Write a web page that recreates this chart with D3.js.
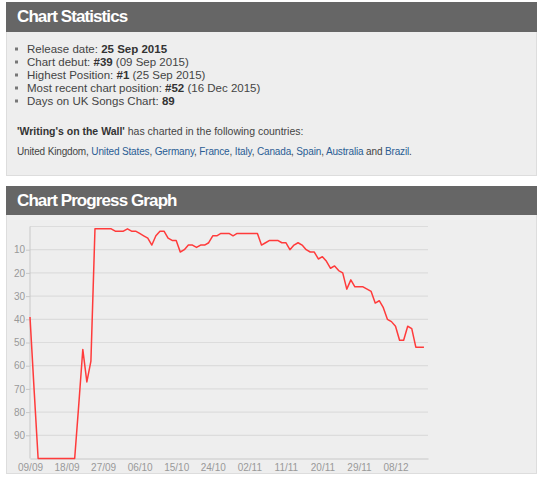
<!DOCTYPE html>
<html>
<head>
<meta charset="utf-8">
<script src="https://cdn.jsdelivr.net/npm/d3@7"></script>
<style>
  body { margin: 0; background: #fff; }
  svg text { font-family: "Liberation Sans", Arial, Helvetica, sans-serif; }
</style>
</head>
<body>
<svg width="540" height="480"></svg>
<script>
// --- data ---
const statLabels = ["Release date: ", "Chart debut: ", "Highest Position: ", "Most recent chart position: ", "Days on UK Songs Chart: "];
const statValues = ["25 Sep 2015", "#39", "#1", "#52", "89"];
const statDates = ["", " (09 Sep 2015)", " (25 Sep 2015)", " (16 Dec 2015)", ""];

const songTitle = "'Writing's on the Wall'";
const countries = ["United Kingdom", "United States", "Germany", "France", "Italy", "Canada", "Spain", "Australia", "Brazil"];

const startDate = "2015-09-09";
const endDate = "2015-12-16";
// daily chart position from startDate, 100 = not in the chart
const positions = [
  39, 70, 100, 100, 100, 100, 100, 100, 100, 100, 100, 100,
  77, 53, 67, 58,
  1, 1, 1, 1, 1, 2, 2, 2, 1, 2, 2,
  3, 4, 5, 8, 4, 2, 2, 5, 6, 6,
  11, 10, 8, 8, 9, 8, 8, 7, 4, 4,
  3, 3, 3, 4, 3, 3, 3, 3, 3, 3,
  8, 7, 6, 6, 6, 7, 7, 10, 8, 7,
  8, 10, 11, 11, 14, 13, 15, 18, 17, 19,
  20, 27, 23, 26, 26, 26, 27, 28, 33, 32,
  35, 40, 41, 43, 49, 49, 43, 44, 52, 52, 52
];

const yTicks = [10, 20, 30, 40, 50, 60, 70, 80, 90];
const yGrid = [0, 10, 20, 30, 40, 50, 60, 70, 80, 90];
const xTickLabels = ["09/09", "18/09", "27/09", "06/10", "15/10", "24/10", "02/11", "11/11", "20/11", "29/11", "08/12"];

const svg = d3.select("svg");

// panels
function panel(y, h, headH, title) {
  svg.append("rect").attr("x", 6.5).attr("y", y + 0.5).attr("width", 530).attr("height", h)
    .attr("fill", "#eeeeee").attr("stroke", "#dddddd");
  svg.append("rect").attr("x", 6).attr("y", y).attr("width", 531).attr("height", headH)
    .attr("fill", "#666666");
  svg.append("text").attr("x", 17).attr("y", y + 20)
    .attr("fill", "#fff").attr("font-size", 17).attr("font-weight", "bold")
    .attr("letter-spacing", -0.9).text(title);
}

panel(2, 173, 30, "Chart Statistics");
panel(186, 287, 29, "Chart Progress Graph");

// statistics list
const rows = svg.append("g");
statLabels.forEach((lab, i) => {
  const y = 52.5 + i * 13;
  rows.append("rect").attr("x", 15).attr("y", y - 5).attr("width", 3).attr("height", 3).attr("fill", "#777");
  const t = rows.append("text").attr("x", 27).attr("y", y).attr("font-size", 11.5).attr("fill", "#444");
  t.append("tspan").text(lab);
  t.append("tspan").attr("font-weight", "bold").attr("fill", "#333").text(statValues[i]);
  t.append("tspan").text(statDates[i]);
});

const intro = svg.append("text").attr("x", 17).attr("y", 135).attr("font-size", 10.5).attr("fill", "#444");
intro.append("tspan").attr("font-weight", "bold").attr("fill", "#333").text(songTitle);
intro.append("tspan").text(" has charted in the following countries:");

const list = svg.append("text").attr("x", 17).attr("y", 154.5).attr("font-size", 10)
  .attr("letter-spacing", -0.15).attr("fill", "#444");
countries.forEach((c, i) => {
  if (i > 0) list.append("tspan").text(i === countries.length - 1 ? " and " : ", ");
  list.append("tspan").attr("fill", i === 0 ? "#444" : "#2a5d94").text(c);
});
list.append("tspan").text(".");

// chart
const parse = d3.timeParse("%Y-%m-%d");
const t0 = parse(startDate);
const data = positions.map((p, i) => ({ date: d3.timeDay.offset(t0, i), pos: p }));

const x = d3.scaleTime().domain([t0, parse(endDate)]).range([30, 428]);
const y = d3.scaleLinear().domain([0, 100]).range([226.5, 458.5]);

const g = svg.append("g");

g.selectAll(".grid").data(yGrid).join("line")
  .attr("x1", 30).attr("x2", 428)
  .attr("y1", d => y(d)).attr("y2", d => y(d))
  .attr("stroke", "#dcdcdc").attr("stroke-width", 1.2);

const yAxis = g.append("g").attr("transform", "translate(30,0)")
  .call(d3.axisLeft(y).tickValues(yTicks).tickSize(4).tickPadding(1));
yAxis.select(".domain").attr("stroke", "#c8c8c8").attr("d", `M0,${y(0)}V${y(100)}`);
yAxis.selectAll(".tick line").attr("stroke", "#c8c8c8");
yAxis.selectAll("text").attr("fill", "#999").attr("font-size", 10)
  .attr("font-family", "'Liberation Sans', Arial, sans-serif");

const xDates = xTickLabels.map(l => d3.timeParse("%d/%m/%Y")(l + "/2015"));
const xAxis = g.append("g").attr("transform", `translate(0,${y(100)})`)
  .call(d3.axisBottom(x).tickValues(xDates).tickFormat(d3.timeFormat("%d/%m")).tickSize(0).tickPadding(5));
xAxis.select(".domain").attr("stroke", "#c8c8c8").attr("stroke-width", 1.2);
xAxis.selectAll("text").attr("fill", "#999").attr("font-size", 10)
  .attr("font-family", "'Liberation Sans', Arial, sans-serif");

const line = d3.line().x(d => x(d.date)).y(d => y(d.pos));
g.append("path").datum(data)
  .attr("fill", "none")
  .attr("stroke", "#ff3b3b")
  .attr("stroke-width", 1.5)
  .attr("stroke-linejoin", "round")
  .attr("d", line);
</script>
</body>
</html>
